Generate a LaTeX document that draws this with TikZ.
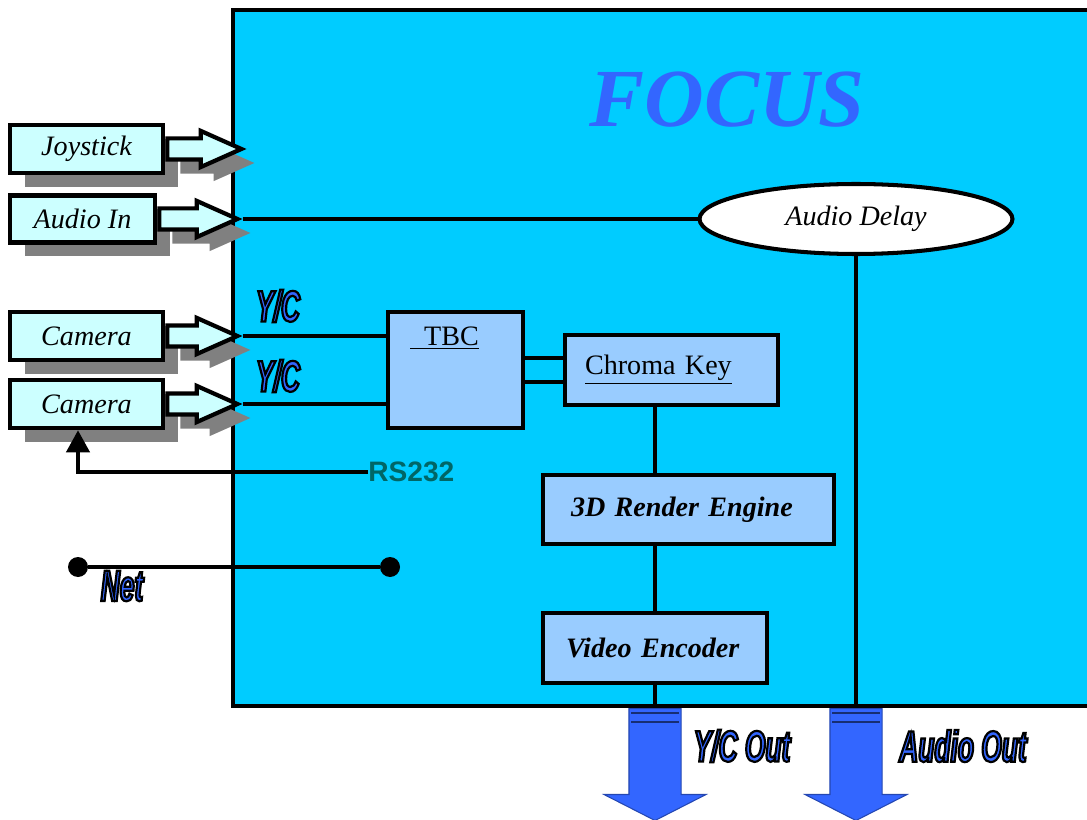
\documentclass[tikz,border=0pt]{standalone}
\usepackage{fontspec}
\setmainfont{Liberation Serif}
\setsansfont{Liberation Sans}
\newfontfamily\narrowfont[FakeStretch=0.6, FakeBold=5]{Liberation Sans}
\usetikzlibrary{positioning,shapes.geometric,shapes.arrows,shadows,arrows.meta}

\definecolor{focuscyan}{HTML}{00CCFF}
\definecolor{inboxcyan}{HTML}{CCFFFF}
\definecolor{blockblue}{HTML}{99CCFF}
\definecolor{labelblue}{HTML}{3366FF}
\definecolor{shadowgray}{HTML}{808080}
\definecolor{rsteal}{HTML}{006666}

% blue letters, black stroke
\newcommand{\outlined}[1]{{\color{labelblue}\special{pdf:code 0 0 0 RG}#1}}

\tikzset{
    mainbox/.style={
        draw, fill=focuscyan, line width=2pt, inner sep=0pt
    },
    inbox/.style={
        draw, fill=inboxcyan, line width=2.6pt,
        minimum width=3.06cm, minimum height=0.96cm,
        font=\fontsize{16}{18}\selectfont\itshape,
        drop shadow={shadow xshift=0.3cm, shadow yshift=-0.28cm,
                     fill=shadowgray, opacity=1}
    },
    inarrow/.style={
        single arrow, draw, fill=inboxcyan, line width=2.4pt,
        inner sep=0pt, inner ysep=0.17cm,
        single arrow head extend=0.15cm, single arrow tip angle=48,
        anchor=tail,
        drop shadow={shadow xshift=0.26cm, shadow yshift=-0.28cm,
                     fill=shadowgray, opacity=1}
    },
    block/.style={
        draw, fill=blockblue, line width=2.3pt,
        font=\fontsize{16}{18}\selectfont
    },
    wire/.style={line width=2.3pt},
    dot/.style={circle, fill, inner sep=0pt, minimum size=0.4cm},
    outarrow/.style={
        single arrow, fill=labelblue, draw=labelblue!70!black,
        line width=0.6pt, rotate=-90, inner sep=0pt, inner ysep=0.51cm,
        single arrow head extend=0.5cm, single arrow tip angle=126,
        minimum height=2.24cm, anchor=tail
    },
    stripe/.style={line width=1.2pt, draw=labelblue!45!black},
    fatlabel/.style={
        font=\narrowfont\bfseries\itshape\fontsize{25}{27}\selectfont,
        inner sep=0pt
    }
}

\begin{document}
\begin{tikzpicture}[x=0.02cm, y=-0.02cm]
\useasboundingbox (0,0) rectangle (1087,820);

% 主框
\node[mainbox, minimum width=17.14cm, minimum height=13.92cm] (focus) at (661.5,358) {};
\node[font=\bfseries\itshape\fontsize{47}{50}\selectfont, text=labelblue] (title) at (727,100) {FOCUS};

% 输入
\node[inbox] (joy) at (86.5,149) {Joystick};
\node[inbox, minimum width=2.9cm, minimum height=0.94cm] (audin) at (82.5,219) {Audio In};
\node[inbox] (cam1) at (86.5,336) {Camera};
\node[inbox] (cam2) at (86.5,404) {Camera};

\node[inarrow, minimum height=1.48cm] (joyarr) at (joy.east) {};
\node[inarrow, minimum height=1.56cm] (audinarr) at (audin.east) {};
\node[inarrow, minimum height=1.4cm] (cam1arr) at (cam1.east) {};
\node[inarrow, minimum height=1.4cm] (cam2arr) at (cam2.east) {};

% 模块
\node[draw, ellipse, fill=white, line width=2.3pt, minimum width=6.26cm, minimum height=1.4cm,
      font=\fontsize{16}{18}\selectfont\itshape] (delay) at (856,219) {Audio Delay};
\node[block, minimum width=2.7cm, minimum height=2.32cm,
      label={[anchor=north, xshift=-0.22cm, yshift=-0.22cm, font=\fontsize{16}{18}\selectfont]north:\underline{\ \ TBC}}] (tbc) at (455.5,370) {};
\node[block, inner xsep=0.4cm, text width=3.46cm, minimum height=1.4cm, align=left] (chroma) at (671.5,370) {\underline{Chroma Key}};
\node[block, inner xsep=0.56cm, text width=4.7cm, minimum height=1.38cm, align=left,
      font=\fontsize{16}{18}\selectfont\bfseries\itshape] (render) at (688.5,509.5) {3D Render Engine};
\node[block, inner xsep=0.46cm, text width=3.56cm, minimum height=1.4cm, align=left,
      font=\fontsize{16}{18}\selectfont\bfseries\itshape] (venc) at (655,648) {Video Encoder};

% 输出
\node[outarrow] (ycout) at (655,708) {};
\node[outarrow] (audout) at (856,708) {};
\foreach \s in {ycout,audout}
  \foreach \dy in {5,14}
    \draw[stripe] ([shift={(-24,\dy)}]\s.tail) -- ++(48,0);

% 连线
\draw[wire] (audinarr.tip) -- (delay.west);
\draw[wire] (cam1arr.tip) -- (tbc.west |- cam1arr.tip);
\draw[wire] (cam2arr.tip) -- (tbc.west |- cam2arr.tip);
\coordinate (ck1) at ([yshift=0.24cm]chroma.west);
\coordinate (ck2) at ([yshift=-0.24cm]chroma.west);
\draw[wire] (tbc.east |- ck1) -- (ck1);
\draw[wire] (tbc.east |- ck2) -- (ck2);
\draw[wire] (chroma.south -| venc.center) -- (render.north -| venc.center);
\draw[wire] (render.south -| venc.center) -- (venc.north);
\draw[wire] (venc.south) -- (ycout.tail);
\draw[wire] (delay.south) -- (audout.tail);

% RS232
\node[font=\sffamily\bfseries\fontsize{16}{18}\selectfont, text=rsteal, anchor=west, inner sep=0pt] (rs) at (368,472) {RS232};
\draw[wire, -{Triangle[width=0.46cm, length=0.44cm]}] (rs.west) -| ([xshift=-0.17cm]cam2.south);

% Net
\node[dot] (neta) at (78,567) {};
\node[dot] (netb) at (390,567) {};
\draw[wire] (neta) -- (netb);

% 标签
\node[fatlabel] (yc1) at (278,306) {\outlined{Y/C}};
\node[fatlabel] (yc2) at (278,376) {\outlined{Y/C}};
\node[fatlabel] (netlbl) at (122,586) {\outlined{Net}};
\node[fatlabel] (yclbl) at (742,746) {\outlined{Y/C Out}};
\node[fatlabel] (audlbl) at (963,746) {\outlined{Audio Out}};
\end{tikzpicture}
\end{document}
